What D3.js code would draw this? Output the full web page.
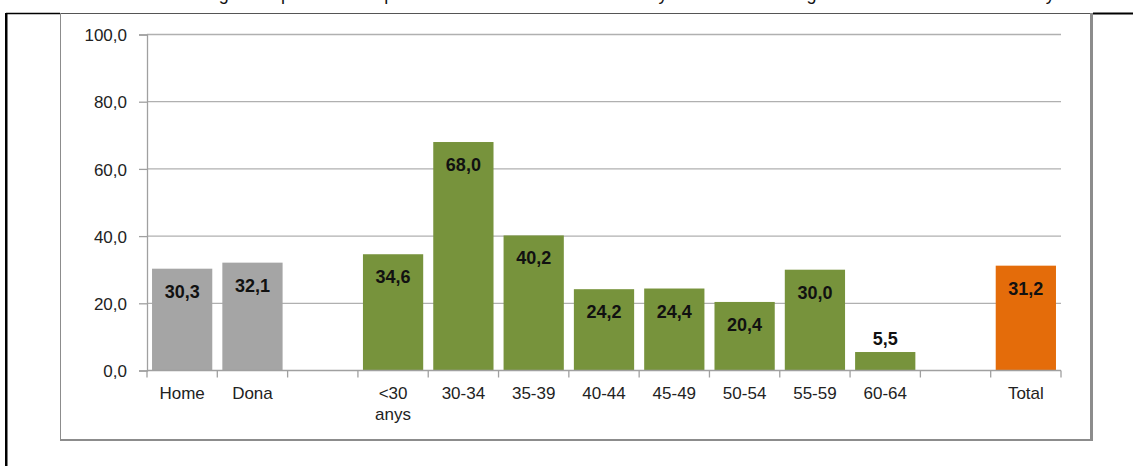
<!DOCTYPE html>
<html>
<head>
<meta charset="utf-8">
<script src="https://cdn.jsdelivr.net/npm/d3@7"></script>
<style>
  html, body { margin: 0; padding: 0; background: #fff; }
  svg { display: block; }
  text { font-family: "Liberation Sans", Arial, sans-serif; }
</style>
</head>
<body>
<svg id="chart" width="1133" height="466"></svg>
<script>
// ---- data ----
const categories = ["Home", "Dona", "", "<30 anys", "30-34", "35-39", "40-44", "45-49", "50-54", "55-59", "60-64", " ", "Total"];
const values     = [30.3, 32.1, null, 34.6, 68.0, 40.2, 24.2, 24.4, 20.4, 30.0, 5.5, null, 31.2];
const groups     = ["sexe", "sexe", null, "edat", "edat", "edat", "edat", "edat", "edat", "edat", "edat", null, "total"];
const yTicks     = [0, 20, 40, 60, 80, 100];
const titleText  = "Gràfic 4. Percentatge de persones que han trobat feina en menys d'un mes segons el sexe i l'edat. Any 2012";

const colors = { sexe: "#a5a5a5", edat: "#77933c", total: "#e46c0a" };

const svg = d3.select("#chart");

// caption line, cut off at the top edge as in the reference
svg.append("text")
  .attr("x", 30).attr("y", 0)
  .attr("font-size", 18)
  .attr("fill", "#111")
  .attr("textLength", 1080)
  .attr("lengthAdjust", "spacing")
  .text(titleText);

// outer table cell borders
svg.append("rect").attr("x", 5).attr("y", 13).attr("width", 2.5).attr("height", 453).attr("fill", "#000");
svg.append("line").attr("x1", 6).attr("x2", 60).attr("y1", 13.5).attr("y2", 13.5).attr("stroke", "#000").attr("stroke-width", 1.5);
svg.append("line").attr("x1", 60).attr("x2", 1093).attr("y1", 13.5).attr("y2", 13.5).attr("stroke", "#555").attr("stroke-width", 1);
svg.append("line").attr("x1", 1093).attr("x2", 1133).attr("y1", 13.5).attr("y2", 13.5).attr("stroke", "#000").attr("stroke-width", 2);

// chart frame
svg.append("line").attr("x1", 60.5).attr("x2", 60.5).attr("y1", 13).attr("y2", 441).attr("stroke", "#8c8c8c").attr("stroke-width", 1);
svg.append("line").attr("x1", 60).attr("x2", 1093).attr("y1", 440).attr("y2", 440).attr("stroke", "#8c8c8c").attr("stroke-width", 2);
svg.append("line").attr("x1", 1091.5).attr("x2", 1091.5).attr("y1", 13).attr("y2", 441).attr("stroke", "#8c8c8c").attr("stroke-width", 3);

// scales
const x = d3.scaleBand().domain(categories).range([147, 1061]).paddingInner(0.143).paddingOuter(0.0715);
const y = d3.scaleLinear().domain([0, 100]).range([370.5, 34.5]);
const fmt = v => d3.format(".1f")(v).replace(".", ",");

// gridlines
svg.append("g").selectAll("line")
  .data(yTicks.filter(t => t > 0))
  .join("line")
  .attr("x1", 147).attr("x2", 1061)
  .attr("y1", d => y(d)).attr("y2", d => y(d))
  .attr("stroke", "#b0b0b0").attr("stroke-width", 1.3);

// y axis
const yAxis = svg.append("g").attr("transform", "translate(147,0)")
  .call(d3.axisLeft(y).tickValues(yTicks).tickSize(8).tickPadding(12).tickFormat(fmt));
yAxis.select(".domain").attr("stroke", "#a0a0a0").attr("stroke-width", 1.3);
yAxis.selectAll(".tick line").attr("stroke", "#a0a0a0").attr("stroke-width", 1.3);
yAxis.selectAll(".tick text")
  .attr("font-family", "'Liberation Sans', Arial, sans-serif")
  .attr("font-size", 17).attr("fill", "#222").attr("dy", "0.36em");

// bars
const data = categories.map((c, i) => ({ c, v: values[i], g: groups[i] })).filter(d => d.v != null);
svg.append("g").selectAll("rect")
  .data(data)
  .join("rect")
  .attr("x", d => x(d.c))
  .attr("y", d => y(d.v))
  .attr("width", x.bandwidth())
  .attr("height", d => y(0) - y(d.v))
  .attr("fill", d => colors[d.g]);

// x axis line and boundary ticks
const step = x.step();
const boundaries = d3.range(categories.length + 1).map(i => 147 + i * step);
svg.append("line").attr("x1", 147).attr("x2", 1061).attr("y1", y(0)).attr("y2", y(0))
  .attr("stroke", "#a0a0a0").attr("stroke-width", 1.3);
svg.append("g").selectAll("line")
  .data(boundaries)
  .join("line")
  .attr("x1", d => d).attr("x2", d => d)
  .attr("y1", y(0)).attr("y2", y(0) + 7)
  .attr("stroke", "#a0a0a0").attr("stroke-width", 1.3);

// category labels
const xl = svg.append("g").selectAll("text")
  .data(categories.filter(c => c.trim() !== ""))
  .join("text")
  .attr("x", d => x(d) + x.bandwidth() / 2)
  .attr("y", 399)
  .attr("text-anchor", "middle")
  .attr("font-size", 17)
  .attr("fill", "#222");
xl.each(function(d) {
  const parts = d.split(" ");
  d3.select(this).selectAll("tspan")
    .data(parts)
    .join("tspan")
    .attr("x", x(d) + x.bandwidth() / 2)
    .attr("dy", (p, i) => i === 0 ? 0 : 21)
    .text(p => p);
});

// value labels
svg.append("g").selectAll("text")
  .data(data)
  .join("text")
  .attr("x", d => x(d.c) + x.bandwidth() / 2)
  .attr("y", d => (y(0) - y(d.v)) > 35 ? y(d.v) + 29 : y(d.v) - 7)
  .attr("text-anchor", "middle")
  .attr("font-size", 18)
  .attr("font-weight", "bold")
  .attr("fill", "#111")
  .text(d => fmt(d.v));
</script>
</body>
</html>
